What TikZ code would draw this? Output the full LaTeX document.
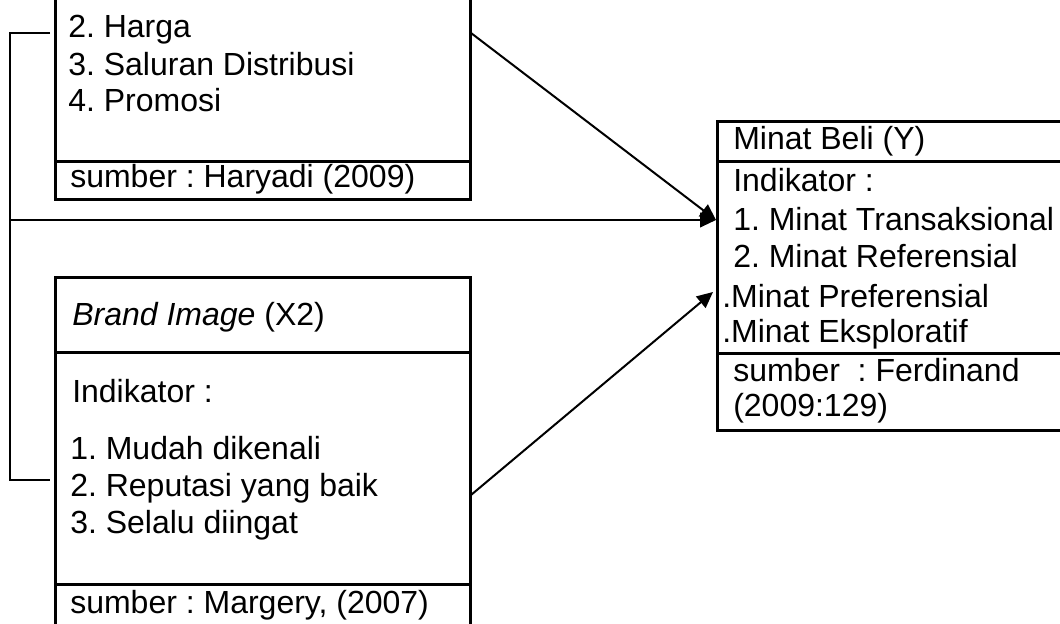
\documentclass[tikz,border=0pt]{standalone}
\usepackage{fontspec}
\setmainfont{Liberation Sans}
\usetikzlibrary{arrows.meta}
\frenchspacing
\begin{document}
\begin{tikzpicture}[x=0.75pt,y=-0.75pt,
  boxline/.style={line width=2.25pt},
  bracket/.style={line width=1.1pt},
  arr/.style={line width=1.5pt,-{Triangle[length=12pt,width=11pt]}},
  txt/.style={anchor=base west,inner sep=0pt,font=\fontsize{24}{27}\selectfont}]
\useasboundingbox (0,0) rectangle (1060,624);
\clip (0,0) rectangle (1060,624);
% X1 box
\draw[boxline] (55,-20) rectangle (470,200);
\draw[boxline] (55,162) -- (470,162);
\node[txt] (x1a) at (68,38) {2. Harga};
\node[txt] (x1b) at (68,76) {3. Saluran Distribusi};
\node[txt] (x1c) at (68,112) {4. Promosi};
\node[txt] (x1s) at (70,188) {sumber : Haryadi (2009)};
% X2 box
\draw[boxline] (55,277) rectangle (470,650);
\draw[boxline] (55,352) -- (470,352);
\draw[boxline] (55,584) -- (470,584);
\node[txt] (x2t) at (72,325) {\textit{Brand Image} (X2)};
\node[txt] (x2i) at (72,402) {Indikator :};
\node[txt] (x2a) at (70,459) {1. Mudah dikenali};
\node[txt] (x2b) at (70,496) {2. Reputasi yang baik};
\node[txt] (x2c) at (70,533) {3. Selalu diingat};
\node[txt] (x2s) at (70,613) {sumber : Margery, (2007)};
% Y box
\draw[boxline] (717,122) rectangle (1090,430);
\draw[boxline] (717,162) -- (1090,162);
\draw[boxline] (717,353) -- (1090,353);
\node[txt] (yt) at (733,150) {Minat Beli (Y)};
\node[txt] (yi) at (733,192) {Indikator :};
\node[txt] (ya) at (733,230) {1. Minat Transaksional};
\node[txt] (yb) at (733,267) {2. Minat Referensial};
\node[txt] (yc) at (722,307) {.Minat Preferensial};
\node[txt] (yd) at (722,342) {.Minat Eksploratif};
\node[txt] (ys) at (733,381) {sumber\ \ : Ferdinand};
\node[txt] (ys2) at (733,416) {(2009:129)};
% connectors
\coordinate (bt) at (50,33);
\coordinate (btc) at (10,33);
\coordinate (bbc) at (10,480);
\coordinate (bb) at (50,480);
\coordinate (bm) at (10,220);
\coordinate (x1out) at (471,33);
\coordinate (x2out) at (471,495);
\coordinate (yin1) at (716,220);
\coordinate (yin2) at (713,292);
\draw[bracket] (bt) -- (btc) -- (bbc) -- (bb);
\draw[arr] (bm) -- (yin1);
\draw[arr] (x1out) -- (yin1);
\draw[arr] (x2out) -- (yin2);
\end{tikzpicture}
\end{document}
